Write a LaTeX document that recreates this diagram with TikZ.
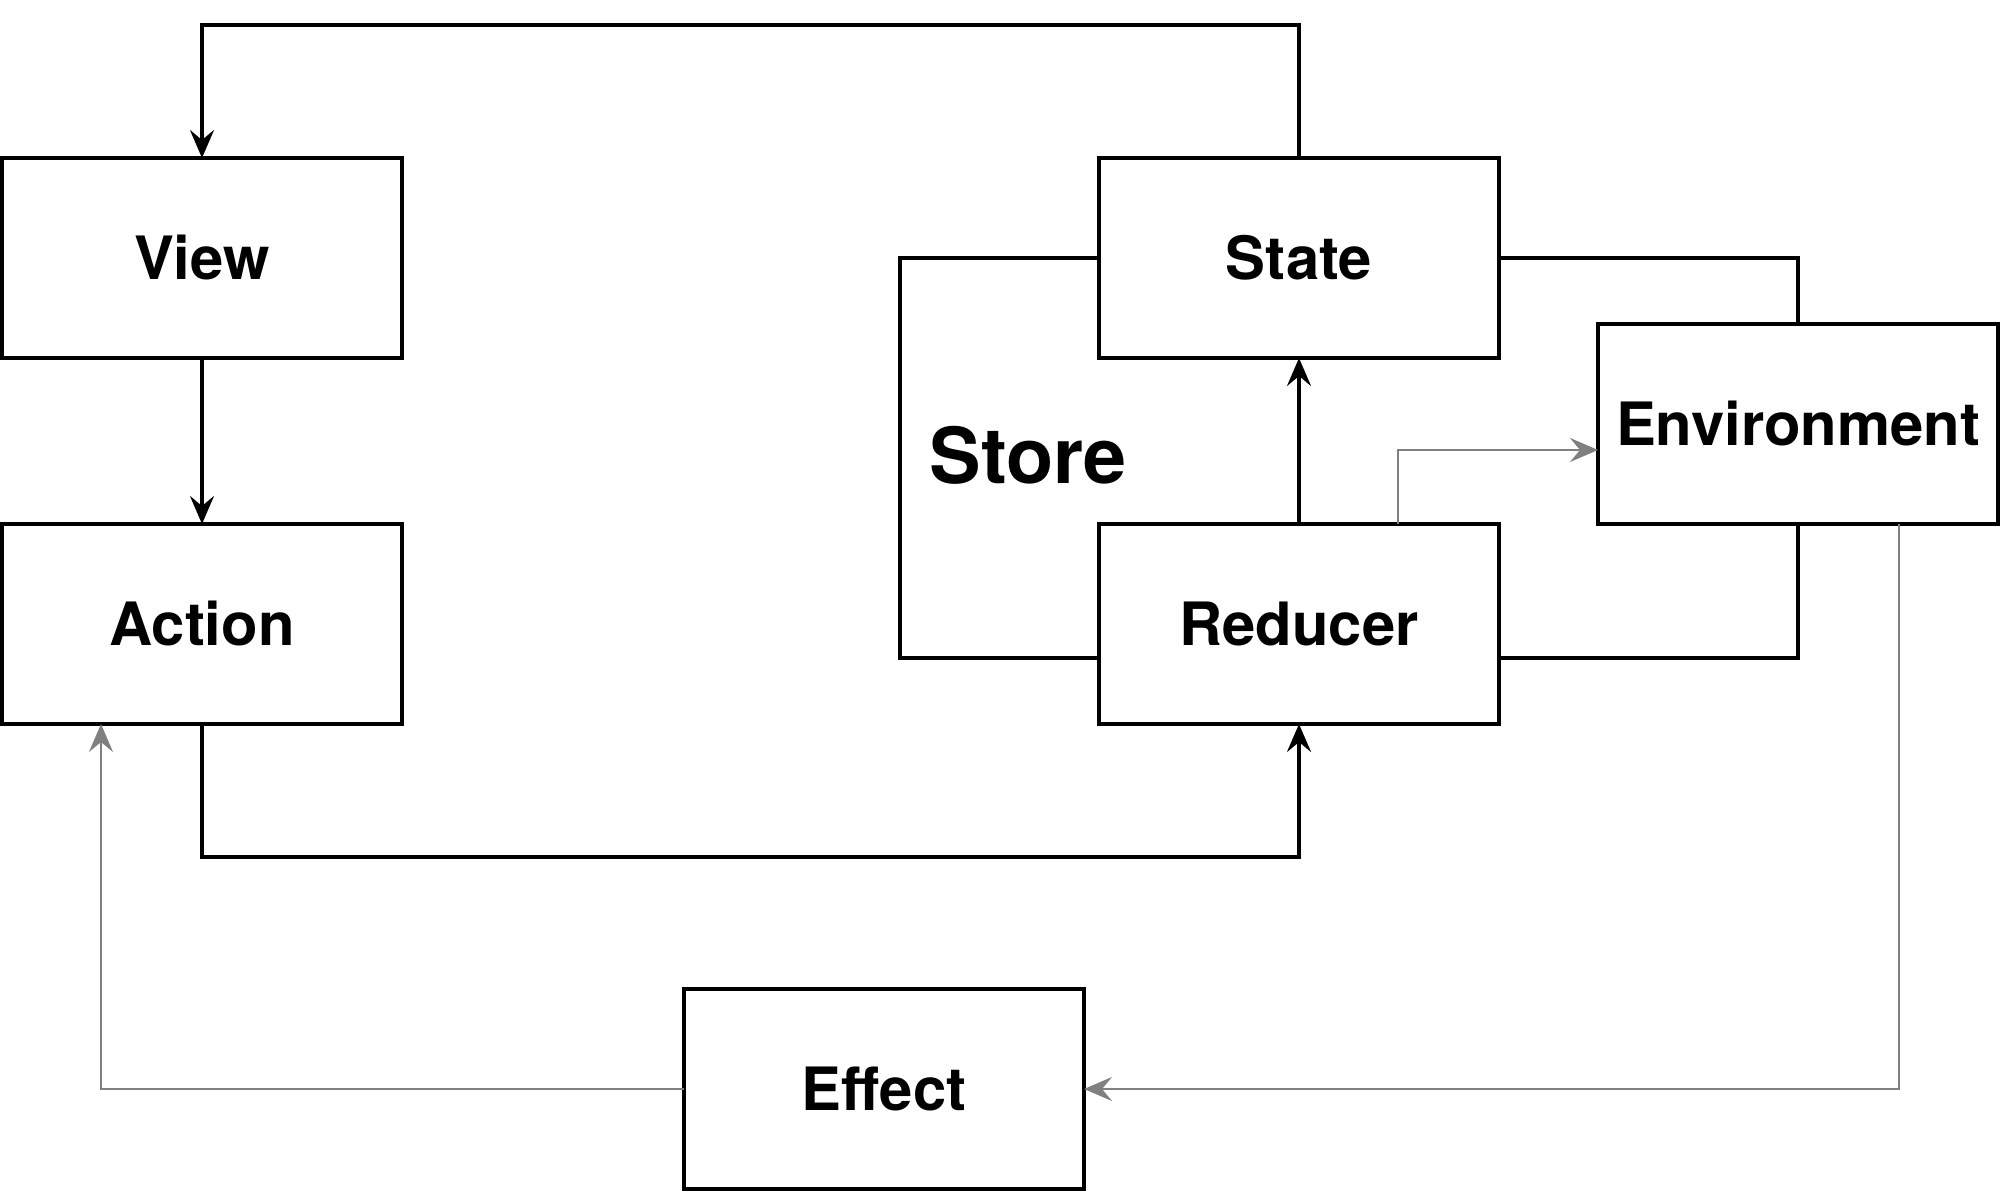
\documentclass[tikz,border=0pt]{standalone}
\usepackage{fontspec}
\setmainfont{TeX Gyre Heros}
\usepackage{tikz}
\usetikzlibrary{arrows.meta, positioning, backgrounds}
\tikzset{
    box/.style={rectangle, draw=black, fill=white, line width=0.9pt, outer sep=0pt, minimum width=4cm, minimum height=2cm, align=center, font=\bfseries\fontsize{17}{20}\selectfont},
    storelabel/.style={font=\bfseries\fontsize{22}{26}\selectfont, inner sep=0pt},
    flow/.style={-{Stealth[length=2.8mm, width=2.4mm, inset=1mm]}, line width=0.9pt},
    sideflow/.style={-{Stealth[length=2.8mm, width=2.4mm, inset=1mm]}, line width=0.6pt, draw=gray, color=gray}
}

\begin{document}
\begin{tikzpicture}
  \useasboundingbox (0,0) rectangle (20,11.91);
  \node[box] (view) at (2.02,9.33) {View};
  \node[box, below=1.66cm of view] (action) {Action};
  \node[box, right=6.97cm of view] (state) {State};
  \node[box, below=1.66cm of state] (reducer) {Reducer};
  \node[box] (env) at (17.98,7.67) {Environment};
  \node[box] (effect) at (8.84,1.02) {Effect};
  \node[storelabel, anchor=west] (storelbl) at (9.29,7.36) {Store};
  \coordinate (storeSW) at (9.0,5.33);
  % store frame behind the boxes
  \begin{scope}[on background layer]
    \draw[line width=0.9pt] (storeSW) rectangle (env.center |- state.center);
  \end{scope}
  \draw[flow] (state.north) -- ++(0,1.33) -| (view.north);
  \draw[flow] (view) -- (action);
  \draw[flow] (action.south) -- ++(0,-1.33) -| (reducer.south);
  \draw[flow] (reducer) -- (state);
  \draw[sideflow] ([xshift=0.99cm]reducer.north) |- ([yshift=-0.26cm]env.west);
  \draw[sideflow] ([xshift=1.01cm]env.south) |- (effect.east);
  \draw[sideflow] (effect.west) -| ([xshift=-1.01cm]action.south);
\end{tikzpicture}
\end{document}
